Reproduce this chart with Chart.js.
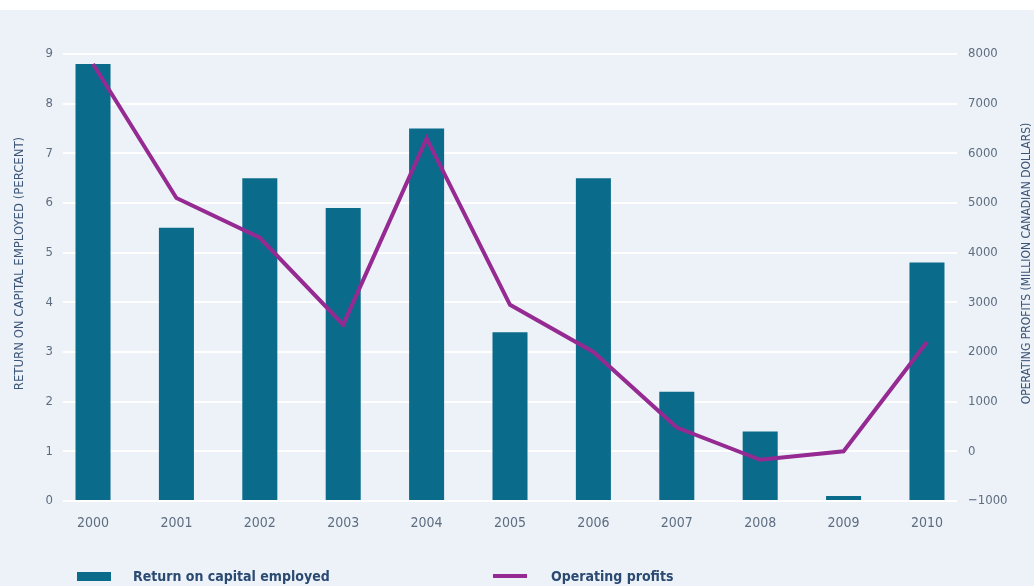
<!DOCTYPE html>
<html>
<head>
<meta charset="utf-8">
<script src="https://cdn.jsdelivr.net/npm/chart.js@4"></script>
<style>
  html, body { margin: 0; padding: 0; }
  body { width: 1034px; height: 586px; overflow: hidden; background: #fff; }
  #panel { position: absolute; left: 0; top: 10px; width: 1034px; height: 576px; background: #edf2f8; }
  #chart { position: absolute; left: 0; top: 0; }
  .legend-item { position: absolute; display: flex; align-items: center; height: 20px; top: 566px;
    font-family: "Liberation Sans Narrow", "DejaVu Sans Condensed", "Liberation Sans", sans-serif;
    font-weight: bold; font-size: 14px; color: #2b4a72; white-space: nowrap; }
  .legend-swatch { position: absolute; }
</style>
</head>
<body>
<div id="panel"></div>
<canvas id="chart" width="1034" height="586"></canvas>
<div id="legend"></div>
<script>
const FONT = '"Liberation Sans Narrow", "DejaVu Sans Condensed", "Liberation Sans", sans-serif';

const years = [2000, 2001, 2002, 2003, 2004, 2005, 2006, 2007, 2008, 2009, 2010];
const returnOnCapital = [8.8, 5.5, 6.5, 5.9, 7.5, 3.4, 6.5, 2.2, 1.4, 0.1, 4.8];
const operatingProfits = [7800, 5100, 4300, 2550, 6300, 2950, 2000, 480, -170, 0, 2200];

const leftTitle = 'RETURN ON CAPITAL EMPLOYED (PERCENT)';
const rightTitle = 'OPERATING PROFITS (MILLION CANADIAN DOLLARS)';

const BAR_COLOR = '#0b6b8b';
const LINE_COLOR = '#952a92';
const TICK_COLOR = '#5d6d80';
const TITLE_COLOR = '#3d5677';

// rotated axis titles, both reading bottom-to-top
const axisTitles = {
  id: 'axisTitles',
  afterDraw(chart) {
    const { ctx, chartArea } = chart;
    const midY = (chartArea.top + chartArea.bottom) / 2 - 14;
    ctx.save();
    ctx.fillStyle = TITLE_COLOR;
    ctx.textAlign = 'center';
    ctx.textBaseline = 'middle';
    [[20, leftTitle, 13], [1027, rightTitle, 12]].forEach(([x, text, size]) => {
      ctx.save();
      ctx.font = size + 'px ' + FONT;
      ctx.translate(x, midY);
      ctx.rotate(-Math.PI / 2);
      ctx.fillText(text, 0, 0);
      ctx.restore();
    });
    ctx.restore();
  }
};

const chart = new Chart(document.getElementById('chart'), {
  type: 'bar',
  data: {
    datasets: [
      {
        type: 'line',
        label: 'Operating profits',
        data: years.map((y, i) => ({ x: y, y: operatingProfits[i] })),
        yAxisID: 'y2',
        borderColor: LINE_COLOR,
        backgroundColor: LINE_COLOR,
        borderWidth: 4,
        pointRadius: 0,
        tension: 0,
        order: 0
      },
      {
        label: 'Return on capital employed',
        data: years.map((y, i) => ({ x: y, y: returnOnCapital[i] })),
        yAxisID: 'y',
        backgroundColor: BAR_COLOR,
        categoryPercentage: 0.8,
        barPercentage: 0.525,
        order: 1
      }
    ]
  },
  options: {
    responsive: false,
    animation: false,
    layout: { padding: { top: 54, left: 0, right: 0, bottom: 0 } },
    plugins: { legend: { display: false }, tooltip: { enabled: false } },
    scales: {
      x: {
        type: 'linear',
        offset: false,
        min: 1999.64,
        max: 2010.36,
        afterFit: s => { s.height = 85; },
        afterBuildTicks: s => { s.ticks = years.map(v => ({ value: v })); },
        grid: { display: false, drawTicks: false },
        border: { display: false },
        ticks: { color: TICK_COLOR, font: { family: FONT, size: 14 }, padding: 14, callback: v => String(v), maxRotation: 0 }
      },
      y: {
        position: 'left',
        min: 0,
        max: 9,
        afterFit: s => { s.width = 63; },
        grid: { color: '#ffffff', lineWidth: 2, drawTicks: false },
        border: { display: false },
        ticks: { stepSize: 1, color: TICK_COLOR, font: { family: FONT, size: 13 }, padding: 10 }
      },
      y2: {
        position: 'right',
        min: -1000,
        max: 8000,
        afterFit: s => { s.width = 77; },
        grid: { display: false, drawTicks: false },
        border: { display: false },
        ticks: { stepSize: 1000, color: TICK_COLOR, font: { family: FONT, size: 13 }, padding: 11, callback: v => v < 0 ? '\u2212' + Math.abs(v) : String(v) }
      }
    }
  },
  plugins: [axisTitles]
});

// legend under the plot, one entry per dataset
const legendSpots = { 'Return on capital employed': [77, 133, 9], 'Operating profits': [493, 551, 4] };
const legendEl = document.getElementById('legend');
chart.data.datasets.slice().reverse().forEach(ds => {
  const [swatchX, textX, h] = legendSpots[ds.label];
  const sw = document.createElement('div');
  sw.className = 'legend-swatch';
  sw.style.cssText = `left:${swatchX}px;top:${576 - h / 2}px;width:34px;height:${h}px;background:${ds.backgroundColor};`;
  legendEl.appendChild(sw);
  const txt = document.createElement('div');
  txt.className = 'legend-item';
  txt.style.left = textX + 'px';
  txt.textContent = ds.label;
  legendEl.appendChild(txt);
});
</script>
</body>
</html>
